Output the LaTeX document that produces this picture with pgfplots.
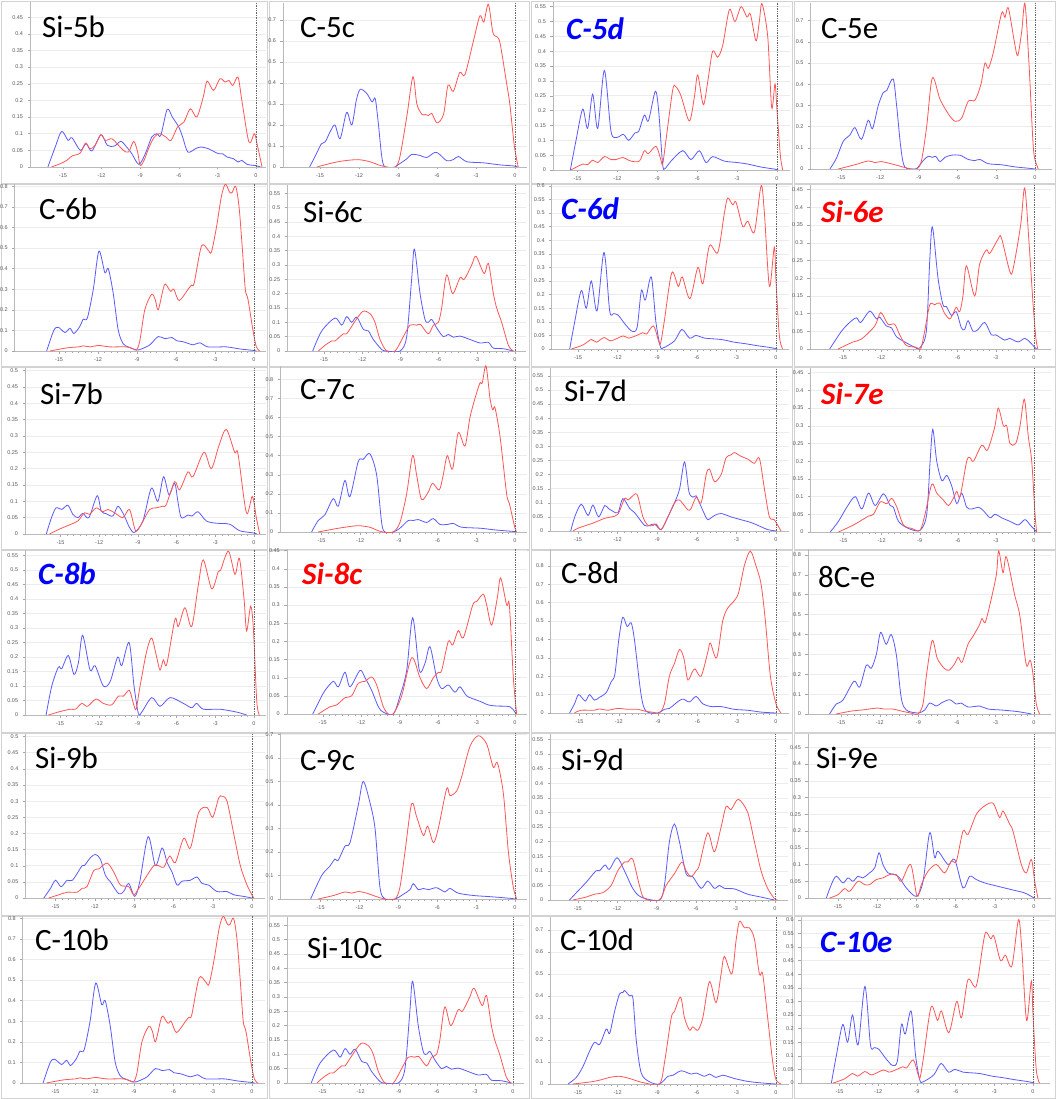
\documentclass[border=0pt]{standalone}
\usepackage{pgfplots}
\pgfplotsset{compat=1.18}
\usepackage{fontspec}
\setmainfont{Carlito}
\newfontfamily\tickfont{Liberation Sans}

\definecolor{dosblue}{RGB}{90,90,255}
\definecolor{dosred}{RGB}{255,85,85}
\definecolor{tblue}{RGB}{0,0,255}
\definecolor{tred}{RGB}{255,0,0}
\definecolor{ticktext}{RGB}{90,90,90}

\pgfplotsset{
  dospanel/.style={
    anchor=origin,
    ymin=0,
    enlargelimits=false,
    axis x line*=bottom,
    axis y line*=left,
    axis line style={gray!55, line width=0.6pt},
    xtick={-15,-12,-9,-6,-3,0},
    minor x tick num=5,
    ytick={0,#1,...,0.9},
    scaled y ticks=false,
    yticklabel style={/pgf/number format/fixed, /pgf/number format/precision=2, xshift=-1pt},
    /pgf/number format/assume math mode=true,
    tick label style={font=\tickfont\fontsize{5.5}{6}\selectfont, text=ticktext},
    tick style={gray!70, line width=0.4pt},
    major tick length=2.5pt, minor tick length=1.5pt,
    tick align=outside,
    ymajorgrids, grid style={gray!15, line width=0.5pt},
    xticklabel style={yshift=-1pt},
  },
  blueline/.style={dosblue, line width=0.8pt, smooth, tension=0.5},
  redline/.style={dosred, line width=0.8pt, smooth, tension=0.5},
}
\newcommand\zeroline{\draw[black!60, densely dotted, line width=0.7pt] (axis cs:0,0) -- ({axis cs:0,0} |- {rel axis cs:0,1});}
\newcommand\ptitle[3]{\node[anchor=base west, inner sep=0pt, font=\fontsize{31}{31}\selectfont, #3] at (#1) {#2};}

\begin{document}
\begin{tikzpicture}
\useasboundingbox (0pt,0pt) rectangle (1056pt,-1099pt);
\fill[white] (0pt,0pt) rectangle (1056pt,-1099pt);
% panel frames
\foreach \cx/\cw in {0/268,268/262,530/263,793/263}{
  \foreach \ry in {0,183,366,549,732,915}{
    \draw[gray!35, line width=0.8pt] (\cx pt+1pt,-\ry pt-1pt) rectangle (\cx pt+\cw pt-1pt,-\ry pt-183pt);
  }
}

% ---------------- row 1 ----------------
\begin{axis}[dospanel=0.05, at={(256pt,-167pt)}, x=12.87pt, y=333pt, xmin=-17.56, xmax=0.8, ymax=0.495]
\addplot[blueline] coordinates {(-16.17,0) (-15.6,0.06) (-15.1,0.107) (-14.6,0.08) (-14.3,0.088) (-13.65,0.05) (-13.2,0.07) (-12.75,0.048) (-12.05,0.097) (-11.55,0.065) (-11.0,0.063) (-10.5,0.077) (-10.05,0.06) (-9.65,0.04) (-9.1,0.008) (-8.6,0.04) (-8.1,0.09) (-7.7,0.1) (-7.4,0.095) (-6.9,0.173) (-6.5,0.15) (-6.0,0.12) (-5.7,0.09) (-5.3,0.045) (-4.7,0.055) (-4.3,0.06) (-3.7,0.055) (-3.2,0.045) (-2.9,0.04) (-2.6,0.04) (-2.25,0.03) (-1.75,0.025) (-1.4,0.015) (-1.1,0.02) (-0.7,0.008) (0,0.004) (0.35,0)};
\addplot[redline] coordinates {(-15.9,0) (-15.2,0.01) (-14.7,0.02) (-14.3,0.033) (-13.65,0.042) (-13.25,0.072) (-12.9,0.055) (-12.5,0.065) (-12.05,0.097) (-11.7,0.08) (-11.2,0.085) (-10.8,0.07) (-10.3,0.05) (-9.9,0.045) (-9.5,0.077) (-9.2,0.045) (-9.0,0.005) (-8.7,0.02) (-8.3,0.06) (-7.9,0.09) (-7.5,0.1) (-7.0,0.09) (-6.6,0.08) (-6.1,0.12) (-5.6,0.135) (-5.1,0.175) (-4.6,0.15) (-4.1,0.21) (-3.8,0.258) (-3.3,0.23) (-2.8,0.265) (-2.4,0.255) (-2.1,0.26) (-1.8,0.245) (-1.4,0.27) (-1.1,0.2) (-0.55,0.075) (-0.13,0.1) (0.08,0.07) (0.47,0)};
\zeroline
\end{axis}
\ptitle{42pt,-38pt}{Si-5b}{}

\begin{axis}[dospanel=0.1, at={(515pt,-167pt)}, x=13pt, y=210pt, xmin=-17.85, xmax=0.9, ymax=0.78]
\addplot[blueline] coordinates {(-15.8,0) (-15.3,0.06) (-14.9,0.11) (-14.6,0.12) (-14.2,0.17) (-13.85,0.2) (-13.45,0.135) (-12.95,0.26) (-12.55,0.2) (-12.2,0.32) (-11.9,0.37) (-11.4,0.35) (-11.0,0.31) (-10.75,0.325) (-10.5,0.2) (-10.25,0.05) (-10.0,0) (-9.2,0) (-9.0,0.01) (-8.3,0.04) (-7.95,0.06) (-7.3,0.055) (-6.8,0.045) (-6.15,0.07) (-5.8,0.06) (-5.25,0.03) (-4.75,0.035) (-4.35,0.05) (-3.7,0.025) (-2.45,0.02) (-1.15,0.01) (-0.1,0.005) (0.2,0)};
\addplot[redline] coordinates {(-15.25,0) (-14.0,0.02) (-13.1,0.03) (-12.05,0.035) (-11.15,0.025) (-10.5,0.01) (-9.85,0) (-9.2,0) (-8.85,0.05) (-8.3,0.25) (-7.85,0.43) (-7.55,0.3) (-7.15,0.25) (-6.9,0.25) (-6.65,0.245) (-6.4,0.255) (-6.0,0.21) (-5.5,0.25) (-5.15,0.39) (-4.75,0.36) (-4.25,0.45) (-3.85,0.44) (-3.2,0.6) (-2.7,0.72) (-2.4,0.69) (-2.05,0.775) (-1.7,0.64) (-1.4,0.62) (-1.15,0.59) (-0.65,0.4) (-0.4,0.3) (-0.05,0.1) (0.25,0)};
\zeroline
\end{axis}
\ptitle{300pt,-38pt}{C-5c}{}

\begin{axis}[dospanel=0.05, at={(777pt,-170pt)}, x=13.3pt, y=297pt, xmin=-16.85, xmax=1.0, ymax=0.566]
\addplot[blueline] coordinates {(-15.54,0) (-15.11,0.1) (-14.61,0.205) (-14.24,0.14) (-13.86,0.255) (-13.48,0.14) (-12.98,0.335) (-12.48,0.13) (-12.03,0.11) (-11.55,0.12) (-11.15,0.1) (-10.68,0.125) (-10.4,0.13) (-9.97,0.185) (-9.67,0.165) (-9.15,0.265) (-8.9,0.2) (-8.6,0.02) (-8.42,0.005) (-7.97,0.03) (-7.09,0.065) (-6.47,0.035) (-5.84,0.065) (-5.34,0.025) (-4.84,0.045) (-3.96,0.03) (-2.96,0.025) (-2.2,0.02) (-1.2,0.01) (-0.2,0.003) (0.1,0)};
\addplot[redline] coordinates {(-15.5,0) (-14.6,0.02) (-14.24,0.018) (-13.86,0.033) (-13.48,0.025) (-12.98,0.045) (-12.48,0.035) (-12.1,0.035) (-11.6,0.042) (-10.98,0.03) (-10.35,0.03) (-9.97,0.065) (-9.67,0.055) (-9.1,0.08) (-8.77,0.04) (-8.6,0.02) (-8.35,0.1) (-7.84,0.27) (-7.6,0.28) (-7.22,0.25) (-6.59,0.165) (-6.2,0.25) (-5.96,0.32) (-5.54,0.22) (-5.2,0.3) (-4.84,0.4) (-4.46,0.38) (-4.08,0.42) (-3.58,0.54) (-3.16,0.5) (-2.7,0.55) (-2.26,0.515) (-2.0,0.525) (-1.58,0.435) (-1.33,0.5) (-1.13,0.56) (-0.7,0.45) (-0.4,0.21) (-0.15,0.29) (0,0.2) (0.25,0.05) (0.43,0)};
\zeroline
\end{axis}
\ptitle{566pt,-40pt}{C-5d}{text=tblue, font=\fontsize{31}{31}\selectfont\bfseries\itshape}

\begin{axis}[dospanel=0.1, at={(1035pt,-169pt)}, x=12.9pt, y=212pt, xmin=-17.4, xmax=1.3, ymax=0.783]
\addplot[blueline] coordinates {(-15.9,0) (-15.4,0.05) (-14.87,0.13) (-14.35,0.16) (-13.96,0.195) (-13.45,0.14) (-12.93,0.23) (-12.6,0.19) (-12.15,0.3) (-11.77,0.36) (-11.5,0.37) (-11.0,0.425) (-10.73,0.3) (-10.4,0.1) (-10.1,0.01) (-9.3,0) (-9.05,0.01) (-8.66,0.04) (-8.28,0.06) (-7.95,0.055) (-7.7,0.06) (-7.37,0.035) (-6.98,0.055) (-6.47,0.065) (-5.82,0.065) (-5.17,0.045) (-4.65,0.04) (-4.27,0.045) (-3.62,0.025) (-2.59,0.02) (-1.55,0.01) (-0.4,0.003) (0,0)};
\addplot[redline] coordinates {(-15.26,0) (-13.96,0.02) (-12.93,0.038) (-12.4,0.03) (-11.9,0.035) (-10.86,0.02) (-9.96,0.005) (-9.18,0) (-8.8,0.04) (-8.4,0.2) (-7.96,0.43) (-7.37,0.33) (-6.72,0.26) (-6.2,0.225) (-5.69,0.24) (-5.17,0.32) (-4.65,0.325) (-4.19,0.4) (-3.88,0.5) (-3.62,0.475) (-3.23,0.55) (-2.59,0.735) (-2.33,0.715) (-2.07,0.76) (-1.6,0.6) (-1.34,0.535) (-1.03,0.65) (-0.78,0.78) (-0.47,0.5) (-0.13,0.1) (0.13,0.02) (0.26,0)};
\zeroline
\end{axis}
\ptitle{821pt,-39pt}{C-5e}{}

% ---------------- row 2 ----------------
\begin{axis}[dospanel=0.1, at={(254pt,-351pt)}, x=13pt, y=206pt, xmin=-18.4, xmax=0.9, ymax=0.81]
\addplot[blueline] coordinates {(-15.95,0) (-15.4,0.1) (-15.05,0.115) (-14.54,0.09) (-14.15,0.11) (-13.85,0.085) (-13.39,0.12) (-13.13,0.155) (-12.82,0.16) (-12.36,0.3) (-11.93,0.485) (-11.47,0.38) (-11.21,0.4) (-10.83,0.28) (-10.44,0.1) (-10.06,0.035) (-9.67,0.02) (-9.03,0.005) (-8.65,0.01) (-8.01,0.03) (-7.37,0.07) (-6.86,0.06) (-6.3,0.065) (-5.96,0.05) (-5.45,0.045) (-4.68,0.03) (-4.17,0.04) (-3.53,0.02) (-2.12,0.02) (-1.1,0.01) (-0.08,0.003) (0.2,0)};
\addplot[redline] coordinates {(-15.69,0) (-14.41,0.015) (-13.5,0.02) (-13.13,0.025) (-12.6,0.02) (-11.98,0.027) (-11.08,0.02) (-9.8,0.02) (-9.29,0.01) (-9.03,0.005) (-8.78,0.05) (-8.4,0.2) (-7.88,0.275) (-7.6,0.25) (-7.37,0.2) (-6.99,0.3) (-6.81,0.325) (-6.42,0.29) (-6.17,0.3) (-5.76,0.245) (-5.07,0.3) (-4.81,0.32) (-4.6,0.33) (-4.04,0.51) (-3.53,0.49) (-3.28,0.48) (-2.89,0.6) (-2.51,0.75) (-2.2,0.81) (-1.87,0.77) (-1.68,0.77) (-1.41,0.8) (-1.15,0.7) (-0.9,0.5) (-0.67,0.3) (-0.46,0.25) (-0.08,0.1) (0.18,0.02) (0.44,0)};
\zeroline
\end{axis}
\ptitle{39pt,-220pt}{C-6b}{}

\begin{axis}[dospanel=0.05, at={(515pt,-351pt)}, x=12.73pt, y=287pt, xmin=-17.9, xmax=0.9, ymax=0.578]
\addplot[blueline] coordinates {(-15.89,0) (-15.18,0.07) (-14.14,0.115) (-13.61,0.09) (-13.22,0.12) (-12.83,0.1) (-12.43,0.118) (-11.91,0.075) (-11.52,0.07) (-11.13,0.04) (-10.47,0.005) (-10.08,0) (-9.03,0) (-8.51,0.05) (-8.12,0.25) (-7.9,0.355) (-7.46,0.2) (-7.07,0.11) (-6.8,0.1) (-6.54,0.11) (-6.15,0.08) (-5.63,0.05) (-5.24,0.058) (-4.85,0.048) (-4.32,0.052) (-3.53,0.04) (-2.75,0.028) (-2.09,0.03) (-1.7,0.01) (-0.92,0.008) (-0.13,0)};
\addplot[redline] coordinates {(-15.45,0) (-14.92,0.02) (-14.4,0.035) (-14.14,0.035) (-13.48,0.06) (-13.22,0.06) (-12.62,0.1) (-11.96,0.138) (-11.39,0.13) (-11.0,0.1) (-10.6,0.04) (-10.08,0) (-9.42,0) (-8.77,0.05) (-8.25,0.09) (-7.73,0.09) (-7.41,0.092) (-6.81,0.06) (-6.41,0.09) (-6.02,0.1) (-5.76,0.15) (-5.37,0.265) (-4.9,0.2) (-4.32,0.255) (-3.98,0.25) (-3.4,0.3) (-3.06,0.33) (-2.43,0.27) (-2.09,0.305) (-1.7,0.2) (-1.44,0.15) (-1.05,0.1) (-0.52,0.02) (-0.13,0)};
\zeroline
\end{axis}
\ptitle{303pt,-223pt}{Si-6c}{}

\begin{axis}[dospanel=0.05, at={(776pt,-349pt)}, x=13.2pt, y=272pt, xmin=-17.0, xmax=1.0, ymax=0.607]
\addplot[blueline] coordinates {(-15.63,0) (-15.25,0.1) (-14.75,0.215) (-14.37,0.15) (-13.99,0.25) (-13.56,0.14) (-13.03,0.355) (-12.6,0.14) (-12.3,0.13) (-11.97,0.125) (-11.41,0.09) (-10.9,0.065) (-10.52,0.08) (-10.2,0.215) (-9.9,0.18) (-9.45,0.265) (-9.1,0.1) (-8.77,0.01) (-8.5,0.005) (-7.69,0.03) (-7.13,0.072) (-6.55,0.04) (-6.05,0.05) (-5.42,0.04) (-4.16,0.035) (-3.15,0.025) (-2.39,0.02) (-1.39,0.012) (-0.38,0.005) (0.1,0)};
\addplot[redline] coordinates {(-15.5,0) (-14.62,0.015) (-13.99,0.035) (-13.6,0.025) (-13.03,0.042) (-12.5,0.03) (-11.6,0.048) (-11.17,0.04) (-10.55,0.05) (-10.08,0.06) (-9.8,0.055) (-9.28,0.085) (-8.9,0.03) (-8.75,0.02) (-8.47,0.1) (-7.9,0.28) (-7.4,0.23) (-7.1,0.265) (-6.52,0.185) (-5.92,0.3) (-5.54,0.24) (-5.04,0.38) (-4.41,0.355) (-3.91,0.5) (-3.66,0.555) (-3.28,0.53) (-3.03,0.54) (-2.52,0.45) (-2.14,0.47) (-1.64,0.43) (-1.13,0.6) (-0.88,0.5) (-0.5,0.23) (-0.13,0.375) (0,0.25) (0.25,0.05) (0.5,0)};
\zeroline
\end{axis}
\ptitle{561pt,-219pt}{C-6d}{text=tblue, font=\fontsize{31}{31}\selectfont\bfseries\itshape}

\begin{axis}[dospanel=0.05, at={(1034pt,-349pt)}, x=12.73pt, y=354pt, xmin=-17.6, xmax=1.3, ymax=0.463]
\addplot[blueline] coordinates {(-16.05,0) (-15.13,0.05) (-14.48,0.075) (-13.95,0.088) (-13.61,0.075) (-12.91,0.107) (-12.38,0.085) (-12.12,0.09) (-11.6,0.065) (-11.2,0.06) (-10.81,0.035) (-10.16,0.02) (-9.37,0.005) (-8.98,0.003) (-8.46,0.05) (-8.19,0.25) (-7.98,0.345) (-7.54,0.2) (-7.15,0.125) (-6.88,0.12) (-6.49,0.095) (-6.1,0.105) (-5.71,0.06) (-5.45,0.055) (-5.18,0.08) (-4.79,0.05) (-4.4,0.055) (-3.87,0.075) (-3.35,0.04) (-3.0,0.04) (-2.3,0.025) (-1.91,0.03) (-1.26,0.02) (-0.73,0.03) (-0.34,0.02) (0.05,0.005) (0.2,0)};
\addplot[redline] coordinates {(-15.39,0) (-14.21,0.02) (-13.56,0.028) (-12.51,0.065) (-12.04,0.103) (-11.47,0.07) (-10.95,0.07) (-10.55,0.04) (-10.03,0.01) (-9.24,0.005) (-8.9,0) (-8.59,0.05) (-8.19,0.125) (-7.8,0.125) (-7.41,0.13) (-7.02,0.1) (-6.62,0.085) (-6.36,0.1) (-6.1,0.118) (-5.84,0.105) (-5.58,0.15) (-5.31,0.235) (-4.66,0.15) (-4.27,0.24) (-3.74,0.28) (-3.48,0.27) (-2.83,0.31) (-2.57,0.315) (-1.91,0.22) (-1.65,0.225) (-1.05,0.35) (-0.73,0.455) (-0.39,0.3) (-0.08,0.13) (0.15,0.03) (0.3,0)};
\zeroline
\end{axis}
\ptitle{821pt,-223pt}{Si-6e}{text=tred, font=\fontsize{31}{31}\selectfont\bfseries\itshape}

% ---------------- row 3 ----------------
\begin{axis}[dospanel=0.05, at={(254pt,-534pt)}, x=12.9pt, y=327pt, xmin=-17.75, xmax=0.9, ymax=0.507]
\addplot[blueline] coordinates {(-16.1,0) (-15.7,0.05) (-15.34,0.08) (-14.9,0.075) (-14.43,0.088) (-14.04,0.06) (-13.65,0.05) (-13.27,0.063) (-12.8,0.05) (-12.16,0.117) (-11.84,0.07) (-11.45,0.062) (-10.94,0.055) (-10.55,0.085) (-10.11,0.06) (-9.65,0.02) (-9.26,0.005) (-8.61,0.04) (-7.96,0.14) (-7.45,0.1) (-7.01,0.175) (-6.59,0.12) (-6.15,0.155) (-5.9,0.1) (-5.64,0.05) (-5.12,0.058) (-4.8,0.055) (-4.34,0.068) (-3.7,0.04) (-2.92,0.033) (-1.89,0.03) (-1.11,0.01) (0,0.003) (0.2,0)};
\addplot[redline] coordinates {(-15.85,0) (-15.08,0.015) (-14.3,0.028) (-13.65,0.04) (-13.14,0.065) (-12.75,0.06) (-12.23,0.08) (-11.72,0.068) (-11.33,0.075) (-10.81,0.065) (-10.16,0.05) (-9.65,0.075) (-9.18,0.01) (-8.74,0.03) (-8.09,0.075) (-7.58,0.08) (-7.06,0.085) (-6.8,0.09) (-6.15,0.16) (-5.77,0.135) (-5.12,0.19) (-4.73,0.175) (-3.88,0.25) (-3.31,0.2) (-2.72,0.27) (-2.15,0.32) (-1.5,0.25) (-1.24,0.245) (-0.59,0.065) (-0.13,0.115) (0.18,0.05) (0.44,0)};
\zeroline
\end{axis}
\ptitle{40pt,-404pt}{Si-7b}{}

\begin{axis}[dospanel=0.1, at={(515pt,-532pt)}, x=12.9pt, y=191pt, xmin=-18.2, xmax=0.9, ymax=0.87]
\addplot[blueline] coordinates {(-15.77,0) (-15.26,0.06) (-14.74,0.09) (-14.09,0.175) (-13.7,0.135) (-13.19,0.27) (-12.8,0.185) (-12.15,0.37) (-11.77,0.38) (-11.25,0.41) (-10.73,0.3) (-10.34,0.05) (-10.09,0) (-9.44,0) (-8.92,0.02) (-8.28,0.06) (-7.9,0.06) (-7.5,0.065) (-6.85,0.05) (-6.34,0.07) (-5.82,0.04) (-5.2,0.04) (-4.78,0.045) (-4.14,0.025) (-2.72,0.02) (-1.42,0.01) (-0.13,0.003) (0.1,0)};
\addplot[redline] coordinates {(-15.26,0) (-14.09,0.015) (-13.19,0.025) (-12.15,0.033) (-11.25,0.025) (-10.73,0.01) (-10.21,0) (-9.44,0) (-8.92,0.05) (-8.4,0.2) (-7.94,0.4) (-7.63,0.3) (-7.24,0.17) (-6.72,0.21) (-6.39,0.255) (-5.87,0.22) (-5.56,0.3) (-5.25,0.4) (-4.84,0.33) (-4.4,0.52) (-3.88,0.45) (-3.49,0.6) (-3.1,0.7) (-2.72,0.78) (-2.54,0.78) (-2.25,0.87) (-1.94,0.7) (-1.73,0.64) (-1.55,0.65) (-1.16,0.5) (-0.65,0.2) (-0.44,0.15) (0,0.02) (0.13,0)};
\zeroline
\end{axis}
\ptitle{300pt,-399pt}{C-7c}{}

\begin{axis}[dospanel=0.05, at={(776pt,-531pt)}, x=13.2pt, y=282pt, xmin=-17.1, xmax=1.0, ymax=0.578]
\addplot[blueline] coordinates {(-15.55,0) (-15.25,0.05) (-14.75,0.095) (-14.24,0.055) (-13.87,0.092) (-13.44,0.05) (-12.98,0.09) (-12.7,0.08) (-12.35,0.07) (-11.97,0.065) (-11.6,0.115) (-11.09,0.08) (-10.71,0.065) (-9.96,0.02) (-9.58,0.02) (-9.2,0.025) (-8.7,0.005) (-8.19,0.05) (-7.69,0.1) (-7.3,0.15) (-6.93,0.245) (-6.6,0.14) (-6.3,0.12) (-6.05,0.125) (-5.8,0.1) (-5.42,0.06) (-5.17,0.04) (-4.66,0.055) (-4.16,0.062) (-3.4,0.05) (-2.65,0.04) (-1.89,0.03) (-1.13,0.015) (-0.63,0.005) (0,0)};
\addplot[redline] coordinates {(-15.38,0) (-15.0,0.01) (-13.87,0.028) (-12.98,0.045) (-12.48,0.05) (-11.97,0.06) (-11.47,0.115) (-11.2,0.11) (-10.66,0.132) (-10.45,0.12) (-10.08,0.05) (-9.7,0.02) (-9.3,0.02) (-9.07,0.025) (-8.7,0.005) (-8.19,0.05) (-7.69,0.1) (-7.31,0.11) (-6.68,0.075) (-6.43,0.08) (-6.05,0.12) (-5.67,0.1) (-5.29,0.2) (-5.04,0.22) (-4.66,0.175) (-4.16,0.2) (-3.78,0.26) (-3.4,0.27) (-3.15,0.278) (-2.65,0.265) (-2.14,0.255) (-1.64,0.24) (-1.26,0.258) (-0.88,0.15) (-0.5,0.05) (-0.13,0.04) (0.38,0)};
\zeroline
\end{axis}
\ptitle{564pt,-401pt}{Si-7d}{}

\begin{axis}[dospanel=0.05, at={(1034pt,-532pt)}, x=12.7pt, y=354pt, xmin=-17.6, xmax=1.3, ymax=0.463]
\addplot[blueline] coordinates {(-16.05,0) (-15.4,0.03) (-14.74,0.07) (-14.08,0.1) (-13.56,0.065) (-13.03,0.11) (-12.51,0.075) (-11.85,0.108) (-11.33,0.075) (-11.07,0.07) (-10.67,0.03) (-9.89,0.01) (-8.97,0.005) (-8.45,0.05) (-8.18,0.2) (-7.97,0.29) (-7.66,0.2) (-7.26,0.145) (-6.87,0.16) (-6.48,0.13) (-6.08,0.08) (-5.69,0.11) (-5.3,0.07) (-4.9,0.065) (-4.38,0.07) (-3.98,0.06) (-3.46,0.04) (-3.07,0.05) (-2.54,0.04) (-1.89,0.03) (-1.23,0.02) (-0.71,0.035) (-0.31,0.02) (0.08,0.005) (0.2,0)};
\addplot[redline] coordinates {(-15.4,0) (-14.21,0.02) (-13.03,0.045) (-12.64,0.05) (-12.11,0.085) (-11.59,0.08) (-11.2,0.095) (-10.8,0.07) (-10.28,0.02) (-9.62,0.01) (-8.97,0.005) (-8.58,0.05) (-8.05,0.135) (-7.66,0.11) (-7.13,0.09) (-6.74,0.075) (-6.35,0.095) (-6.08,0.115) (-5.82,0.1) (-5.3,0.2) (-5.04,0.21) (-4.77,0.2) (-4.12,0.245) (-3.72,0.23) (-3.46,0.25) (-3.07,0.3) (-2.81,0.35) (-2.41,0.3) (-2.15,0.3) (-1.89,0.25) (-1.44,0.25) (-1.1,0.3) (-0.76,0.375) (-0.45,0.27) (-0.18,0.2) (0.08,0.05) (0.21,0)};
\zeroline
\end{axis}
\ptitle{821pt,-404pt}{Si-7e}{text=tred, font=\fontsize{31}{31}\selectfont\bfseries\itshape}

% ---------------- row 4 ----------------
\begin{axis}[dospanel=0.05, at={(254pt,-715pt)}, x=12.93pt, y=290pt, xmin=-17.7, xmax=0.9, ymax=0.569]
\addplot[blueline] coordinates {(-16.08,0) (-15.64,0.1) (-15.13,0.165) (-14.87,0.16) (-14.36,0.205) (-13.92,0.14) (-13.58,0.18) (-13.25,0.275) (-12.68,0.155) (-12.29,0.17) (-11.65,0.1) (-11.13,0.115) (-10.54,0.2) (-10.23,0.17) (-9.66,0.25) (-9.28,0.1) (-8.94,0.005) (-8.68,0.01) (-7.91,0.06) (-7.27,0.03) (-6.49,0.06) (-5.46,0.04) (-4.82,0.025) (-4.43,0.04) (-3.92,0.02) (-2.63,0.02) (-1.34,0.01) (-0.57,0)};
\addplot[redline] coordinates {(-15.9,0) (-15.0,0.012) (-14.2,0.02) (-13.8,0.02) (-13.32,0.04) (-12.88,0.03) (-12.22,0.055) (-11.65,0.04) (-11.0,0.035) (-10.49,0.065) (-10.1,0.065) (-9.64,0.085) (-9.33,0.04) (-9.12,0.02) (-8.81,0.1) (-8.3,0.22) (-7.91,0.265) (-7.53,0.2) (-7.27,0.155) (-7.01,0.19) (-6.75,0.175) (-6.11,0.33) (-5.85,0.305) (-5.34,0.37) (-4.82,0.305) (-4.3,0.45) (-3.92,0.535) (-3.27,0.435) (-2.76,0.495) (-2.58,0.5) (-1.98,0.565) (-1.47,0.485) (-1.13,0.54) (-0.77,0.4) (-0.57,0.29) (-0.26,0.375) (-0.05,0.3) (0.21,0.05) (0.41,0)};
\zeroline
\end{axis}
\ptitle{38pt,-584pt}{C-8b}{text=tblue, font=\fontsize{31}{31}\selectfont\bfseries\itshape}

\begin{axis}[dospanel=0.05, at={(515pt,-714pt)}, x=12.82pt, y=363pt, xmin=-17.8, xmax=0.9, ymax=0.455]
\addplot[blueline] coordinates {(-15.78,0) (-15.21,0.04) (-14.82,0.065) (-14.17,0.09) (-13.78,0.075) (-13.26,0.115) (-12.87,0.075) (-12.09,0.12) (-11.7,0.1) (-11.18,0.065) (-10.66,0.02) (-10.27,0.005) (-9.49,0) (-8.97,0.05) (-8.45,0.12) (-7.98,0.265) (-7.46,0.12) (-7.02,0.14) (-6.63,0.185) (-6.11,0.1) (-5.72,0.07) (-5.2,0.08) (-4.68,0.06) (-4.29,0.075) (-3.77,0.05) (-3.12,0.04) (-2.73,0.035) (-2.08,0.025) (-1.43,0.022) (-0.39,0.02) (0,0.005) (0.13,0)};
\addplot[redline] coordinates {(-15.34,0) (-14.43,0.02) (-13.91,0.025) (-13.26,0.045) (-12.74,0.05) (-12.22,0.085) (-11.7,0.09) (-11.18,0.102) (-10.79,0.08) (-10.27,0.02) (-9.88,0) (-9.49,0) (-8.84,0.05) (-8.06,0.155) (-7.41,0.1) (-6.89,0.07) (-6.37,0.1) (-5.98,0.115) (-5.72,0.12) (-5.2,0.2) (-4.86,0.19) (-4.42,0.23) (-4.03,0.21) (-3.3,0.3) (-2.99,0.31) (-2.47,0.33) (-2.21,0.3) (-1.82,0.245) (-1.38,0.32) (-1.12,0.375) (-0.65,0.3) (-0.44,0.3) (-0.13,0.1) (0.13,0)};
\zeroline
\end{axis}
\ptitle{302pt,-584pt}{Si-8c}{text=tred, font=\fontsize{31}{31}\selectfont\bfseries\itshape}

\begin{axis}[dospanel=0.1, at={(776pt,-713pt)}, x=13.1pt, y=184pt, xmin=-17.2, xmax=1.0, ymax=0.89]
\addplot[blueline] coordinates {(-15.76,0) (-15.38,0.05) (-15.07,0.1) (-14.56,0.065) (-14.24,0.1) (-13.86,0.07) (-13.48,0.085) (-12.97,0.11) (-12.58,0.17) (-12.3,0.21) (-12.0,0.4) (-11.7,0.52) (-11.36,0.47) (-11.06,0.49) (-10.81,0.4) (-10.3,0.1) (-9.92,0.01) (-9.03,0) (-8.52,0.02) (-8.14,0.025) (-7.2,0.075) (-6.61,0.06) (-6.1,0.09) (-5.59,0.05) (-4.96,0.035) (-4.2,0.035) (-3.18,0.02) (-2.16,0.015) (-1.14,0.005) (0,0)};
\addplot[redline] coordinates {(-15.38,0) (-14.9,0.015) (-13.9,0.015) (-13.48,0.022) (-12.85,0.015) (-12.08,0.025) (-11.3,0.02) (-10.55,0.02) (-10.0,0.01) (-9.3,0.003) (-8.9,0) (-8.52,0.05) (-8.14,0.2) (-7.75,0.27) (-7.37,0.345) (-7.04,0.3) (-6.74,0.18) (-6.41,0.22) (-6.18,0.24) (-5.72,0.2) (-5.21,0.33) (-5.01,0.38) (-4.53,0.3) (-4.07,0.5) (-3.69,0.57) (-3.31,0.6) (-2.87,0.65) (-2.42,0.8) (-1.96,0.88) (-1.53,0.8) (-1.14,0.7) (-0.81,0.5) (-0.43,0.2) (0,0.05) (0.38,0)};
\zeroline
\end{axis}
\ptitle{561pt,-583pt}{C-8d}{}

\begin{axis}[dospanel=0.1, at={(1034pt,-714pt)}, x=12.85pt, y=199pt, xmin=-17.6, xmax=1.3, ymax=0.83]
\addplot[blueline] coordinates {(-15.91,0) (-15.39,0.05) (-14.87,0.07) (-14.01,0.165) (-13.57,0.135) (-13.05,0.245) (-12.66,0.23) (-12.27,0.3) (-11.94,0.41) (-11.5,0.35) (-11.11,0.4) (-10.72,0.3) (-10.33,0.08) (-9.94,0.02) (-9.03,0.005) (-8.51,0.02) (-8.12,0.055) (-7.6,0.04) (-7.22,0.055) (-6.57,0.072) (-6.05,0.05) (-5.66,0.055) (-5.14,0.035) (-4.23,0.04) (-3.58,0.025) (-2.54,0.02) (-1.25,0.012) (-0.2,0)};
\addplot[redline] coordinates {(-15.39,0) (-14.2,0.015) (-13.4,0.02) (-12.2,0.03) (-11.7,0.025) (-11.0,0.025) (-10.33,0.015) (-9.6,0.005) (-9.03,0) (-8.64,0.05) (-8.36,0.2) (-7.92,0.37) (-7.53,0.28) (-7.0,0.23) (-6.62,0.22) (-6.2,0.25) (-5.9,0.285) (-5.6,0.26) (-5.14,0.35) (-4.75,0.39) (-4.23,0.45) (-4.05,0.48) (-3.8,0.46) (-3.43,0.55) (-2.93,0.7) (-2.75,0.82) (-2.41,0.71) (-2.15,0.79) (-1.51,0.6) (-1.12,0.5) (-0.73,0.3) (-0.55,0.24) (-0.29,0.27) (-0.08,0.2) (0.18,0.05) (0.44,0)};
\zeroline
\end{axis}
\ptitle{818pt,-587pt}{8C-e}{}

% ---------------- row 5 ----------------
\begin{axis}[dospanel=0.05, at={(252pt,-898pt)}, x=13.1pt, y=323pt, xmin=-17.3, xmax=1.0, ymax=0.507]
\addplot[blueline] coordinates {(-15.89,0) (-15.38,0.03) (-15.0,0.055) (-14.57,0.035) (-14.11,0.055) (-13.7,0.055) (-12.97,0.1) (-12.8,0.1) (-12.33,0.125) (-11.95,0.135) (-11.57,0.12) (-11.19,0.07) (-10.81,0.05) (-10.17,0.013) (-9.8,0.02) (-9.41,0.045) (-8.95,0.005) (-8.57,0.05) (-7.93,0.19) (-7.37,0.1) (-6.86,0.155) (-6.48,0.11) (-6.1,0.08) (-5.72,0.04) (-5.34,0.052) (-4.7,0.055) (-4.2,0.065) (-3.81,0.045) (-3.31,0.04) (-2.67,0.02) (-1.91,0.02) (-1.4,0.01) (-0.64,0.005) (0,0)};
\addplot[redline] coordinates {(-15.51,0) (-14.75,0.01) (-14.1,0.018) (-13.35,0.018) (-12.97,0.03) (-12.6,0.035) (-12.08,0.085) (-11.7,0.09) (-11.06,0.108) (-10.55,0.08) (-10.04,0.04) (-9.41,0.035) (-9.03,0.01) (-8.64,0.03) (-8.01,0.07) (-7.5,0.1) (-7.12,0.1) (-6.74,0.095) (-6.28,0.13) (-5.85,0.11) (-5.21,0.185) (-4.7,0.155) (-4.07,0.265) (-3.43,0.28) (-3.0,0.25) (-2.54,0.31) (-2.29,0.315) (-1.91,0.3) (-1.4,0.2) (-0.89,0.1) (-0.38,0.04) (0.13,0)};
\zeroline
\end{axis}
\ptitle{35pt,-768pt}{Si-9b}{}

\begin{axis}[dospanel=0.1, at={(515pt,-899pt)}, x=12.96pt, y=235pt, xmin=-18.1, xmax=0.9, ymax=0.707]
\addplot[blueline] coordinates {(-15.77,0) (-14.92,0.1) (-14.28,0.14) (-13.9,0.17) (-13.64,0.165) (-13.12,0.225) (-12.73,0.24) (-12.09,0.4) (-11.71,0.5) (-11.19,0.41) (-10.8,0.3) (-10.42,0.05) (-10.03,0) (-9.26,0) (-8.62,0.02) (-8.1,0.04) (-7.85,0.065) (-7.46,0.04) (-7.07,0.045) (-6.68,0.04) (-6.05,0.048) (-5.4,0.03) (-5.02,0.045) (-4.38,0.025) (-3.22,0.015) (-1.93,0.01) (-0.39,0.003) (0,0)};
\addplot[redline] coordinates {(-15.18,0) (-14.0,0.015) (-13.12,0.03) (-12.6,0.025) (-12.09,0.032) (-11.45,0.025) (-10.68,0.01) (-10.03,0) (-9.26,0) (-8.88,0.05) (-8.49,0.2) (-7.98,0.405) (-7.59,0.35) (-7.07,0.27) (-6.74,0.31) (-6.3,0.24) (-5.92,0.3) (-5.27,0.47) (-5.02,0.44) (-4.5,0.46) (-4.12,0.52) (-3.47,0.65) (-2.83,0.695) (-2.19,0.66) (-1.67,0.56) (-1.36,0.58) (-0.9,0.45) (-0.51,0.2) (-0.13,0.05) (0.13,0)};
\zeroline
\end{axis}
\ptitle{300pt,-770pt}{C-9c}{}

\begin{axis}[dospanel=0.05, at={(775pt,-900pt)}, x=13.15pt, y=292pt, xmin=-17.1, xmax=1.0, ymax=0.568]
\addplot[blueline] coordinates {(-15.63,0) (-15.0,0.03) (-14.37,0.06) (-13.61,0.1) (-13.35,0.1) (-12.92,0.12) (-12.59,0.105) (-12.01,0.145) (-11.45,0.1) (-10.82,0.04) (-10.18,0.01) (-8.79,0) (-8.41,0.05) (-8.03,0.2) (-7.65,0.26) (-7.27,0.2) (-6.76,0.09) (-6.26,0.08) (-5.62,0.04) (-5.12,0.065) (-4.61,0.04) (-4.23,0.05) (-3.85,0.04) (-3.09,0.038) (-2.08,0.02) (-1.06,0.01) (-0.05,0)};
\addplot[redline] coordinates {(-15.38,0) (-14.37,0.01) (-13.73,0.02) (-13.1,0.025) (-12.46,0.05) (-11.96,0.1) (-11.45,0.13) (-11.2,0.13) (-10.82,0.14) (-10.31,0.05) (-9.93,0.005) (-8.79,0) (-8.28,0.05) (-7.65,0.09) (-7.09,0.13) (-6.76,0.1) (-6.38,0.08) (-6.0,0.1) (-5.75,0.12) (-5.12,0.23) (-4.61,0.165) (-4.1,0.25) (-3.72,0.32) (-3.34,0.31) (-2.79,0.345) (-2.08,0.3) (-1.57,0.2) (-1.06,0.1) (-0.56,0.04) (-0.05,0.005) (0.2,0)};
\zeroline
\end{axis}
\ptitle{561pt,-770pt}{Si-9d}{}

\begin{axis}[dospanel=0.05, at={(1034pt,-898pt)}, x=13.07pt, y=335pt, xmin=-17.3, xmax=1.3, ymax=0.49]
\addplot[blueline] coordinates {(-15.89,0) (-15.51,0.04) (-15.13,0.065) (-14.62,0.045) (-14.23,0.06) (-13.85,0.05) (-13.47,0.065) (-13.1,0.06) (-12.58,0.075) (-12.19,0.09) (-11.86,0.135) (-11.56,0.1) (-11.17,0.075) (-10.66,0.07) (-10.28,0.06) (-9.77,0.03) (-9.0,0.005) (-8.49,0.05) (-7.98,0.195) (-7.6,0.12) (-7.35,0.14) (-6.58,0.1) (-6.07,0.115) (-5.43,0.03) (-4.92,0.065) (-4.41,0.055) (-3.78,0.045) (-2.76,0.035) (-1.73,0.025) (-0.71,0.015) (0,0)};
\addplot[redline] coordinates {(-15.64,0) (-15.0,0.01) (-14.49,0.028) (-14.1,0.02) (-13.47,0.05) (-12.96,0.04) (-12.58,0.04) (-12.07,0.055) (-11.56,0.06) (-11.05,0.07) (-10.54,0.07) (-10.15,0.05) (-9.44,0.1) (-8.95,0.005) (-8.62,0.04) (-8.11,0.08) (-7.47,0.1) (-6.84,0.075) (-6.33,0.11) (-5.94,0.11) (-5.43,0.2) (-5.05,0.19) (-4.41,0.25) (-3.78,0.275) (-3.14,0.283) (-2.63,0.24) (-2.37,0.26) (-1.86,0.22) (-1.61,0.2) (-0.97,0.1) (-0.59,0.075) (-0.2,0.115) (0.05,0.05) (0.3,0)};
\zeroline
\end{axis}
\ptitle{816pt,-768pt}{Si-9e}{}

% ---------------- row 6 ----------------
\begin{axis}[dospanel=0.1, at={(252pt,-1083pt)}, x=13.1pt, y=206pt, xmin=-17.5, xmax=1.0, ymax=0.81]
\addplot[blueline] coordinates {(-15.95,0) (-15.4,0.1) (-15.05,0.115) (-14.54,0.09) (-14.15,0.11) (-13.85,0.085) (-13.39,0.12) (-13.13,0.155) (-12.82,0.16) (-12.36,0.3) (-11.93,0.485) (-11.47,0.38) (-11.21,0.4) (-10.83,0.28) (-10.44,0.1) (-10.06,0.035) (-9.67,0.02) (-9.03,0.005) (-8.65,0.01) (-8.01,0.03) (-7.37,0.07) (-6.86,0.06) (-6.3,0.065) (-5.96,0.05) (-5.45,0.045) (-4.68,0.03) (-4.17,0.04) (-3.53,0.02) (-2.12,0.02) (-1.1,0.01) (-0.08,0.003) (0.2,0)};
\addplot[redline] coordinates {(-15.69,0) (-14.41,0.015) (-13.5,0.02) (-13.13,0.025) (-12.6,0.02) (-11.98,0.027) (-11.08,0.02) (-9.8,0.02) (-9.29,0.01) (-9.03,0.005) (-8.78,0.05) (-8.4,0.2) (-7.88,0.275) (-7.6,0.25) (-7.37,0.2) (-6.99,0.3) (-6.81,0.325) (-6.42,0.29) (-6.17,0.3) (-5.76,0.245) (-5.07,0.3) (-4.81,0.32) (-4.6,0.33) (-4.04,0.51) (-3.53,0.49) (-3.28,0.48) (-2.89,0.6) (-2.51,0.75) (-2.2,0.81) (-1.87,0.77) (-1.68,0.77) (-1.41,0.8) (-1.15,0.7) (-0.9,0.5) (-0.67,0.3) (-0.46,0.25) (-0.08,0.1) (0.18,0.02) (0.44,0)};
\zeroline
\end{axis}
\ptitle{35pt,-950pt}{C-10b}{}

\begin{axis}[dospanel=0.05, at={(513pt,-1083pt)}, x=12.7pt, y=287pt, xmin=-17.8, xmax=0.9, ymax=0.578]
\addplot[blueline] coordinates {(-15.89,0) (-15.18,0.07) (-14.14,0.115) (-13.61,0.09) (-13.22,0.12) (-12.83,0.1) (-12.43,0.118) (-11.91,0.075) (-11.52,0.07) (-11.13,0.04) (-10.47,0.005) (-10.08,0) (-9.03,0) (-8.51,0.05) (-8.12,0.25) (-7.9,0.355) (-7.46,0.2) (-7.07,0.11) (-6.8,0.1) (-6.54,0.11) (-6.15,0.08) (-5.63,0.05) (-5.24,0.058) (-4.85,0.048) (-4.32,0.052) (-3.53,0.04) (-2.75,0.028) (-2.09,0.03) (-1.7,0.01) (-0.92,0.008) (-0.13,0)};
\addplot[redline] coordinates {(-15.45,0) (-14.92,0.02) (-14.4,0.035) (-14.14,0.035) (-13.48,0.06) (-13.22,0.06) (-12.62,0.1) (-11.96,0.138) (-11.39,0.13) (-11.0,0.1) (-10.6,0.04) (-10.08,0) (-9.42,0) (-8.77,0.05) (-8.25,0.09) (-7.73,0.09) (-7.41,0.092) (-6.81,0.06) (-6.41,0.09) (-6.02,0.1) (-5.76,0.15) (-5.37,0.265) (-4.9,0.2) (-4.32,0.255) (-3.98,0.25) (-3.4,0.3) (-3.06,0.33) (-2.43,0.27) (-2.09,0.305) (-1.7,0.2) (-1.44,0.15) (-1.05,0.1) (-0.52,0.02) (-0.13,0)};
\zeroline
\end{axis}
\ptitle{307pt,-958pt}{Si-10c}{}

\begin{axis}[dospanel=0.1, at={(776pt,-1084pt)}, x=13.2pt, y=220pt, xmin=-17.1, xmax=1.0, ymax=0.76]
\addplot[blueline] coordinates {(-15.76,0) (-15.13,0.03) (-14.62,0.08) (-14.12,0.15) (-13.74,0.19) (-13.36,0.18) (-12.86,0.25) (-12.6,0.23) (-12.23,0.33) (-11.85,0.41) (-11.6,0.415) (-11.47,0.425) (-11.09,0.4) (-10.84,0.39) (-10.59,0.2) (-10.21,0.05) (-9.58,0.01) (-8.82,0) (-8.19,0.035) (-7.8,0.04) (-7.18,0.06) (-6.43,0.045) (-6.05,0.05) (-5.42,0.035) (-5.04,0.045) (-4.54,0.03) (-4.03,0.04) (-3.15,0.025) (-2.14,0.012) (-1.13,0.005) (0,0)};
\addplot[redline] coordinates {(-15.38,0) (-14.0,0.01) (-13.2,0.02) (-12.6,0.03) (-11.85,0.035) (-11.09,0.025) (-10.59,0.015) (-9.96,0.005) (-8.82,0) (-8.44,0.1) (-7.94,0.3) (-7.69,0.33) (-7.23,0.395) (-6.93,0.3) (-6.55,0.245) (-6.3,0.26) (-5.92,0.245) (-5.55,0.3) (-5.04,0.465) (-4.54,0.37) (-4.16,0.5) (-3.91,0.58) (-3.35,0.5) (-3.03,0.65) (-2.77,0.74) (-2.39,0.71) (-2.02,0.71) (-1.64,0.66) (-1.26,0.5) (-1.01,0.5) (-0.63,0.3) (-0.25,0.1) (0,0.02) (0.38,0)};
\zeroline
\end{axis}
\ptitle{560pt,-950pt}{C-10d}{}

\begin{axis}[dospanel=0.05, at={(1033pt,-1083pt)}, x=12.9pt, y=272pt, xmin=-18.0, xmax=1.3, ymax=0.61]
\addplot[blueline] coordinates {(-15.63,0) (-15.25,0.1) (-14.75,0.215) (-14.37,0.15) (-13.99,0.25) (-13.56,0.14) (-13.03,0.355) (-12.6,0.14) (-12.3,0.13) (-11.97,0.125) (-11.41,0.09) (-10.9,0.065) (-10.52,0.08) (-10.2,0.215) (-9.9,0.18) (-9.45,0.265) (-9.1,0.1) (-8.77,0.01) (-8.5,0.005) (-7.69,0.03) (-7.13,0.072) (-6.55,0.04) (-6.05,0.05) (-5.42,0.04) (-4.16,0.035) (-3.15,0.025) (-2.39,0.02) (-1.39,0.012) (-0.38,0.005) (0.1,0)};
\addplot[redline] coordinates {(-15.5,0) (-14.62,0.015) (-13.99,0.035) (-13.6,0.025) (-13.03,0.042) (-12.5,0.03) (-11.6,0.048) (-11.17,0.04) (-10.55,0.05) (-10.08,0.06) (-9.8,0.055) (-9.28,0.085) (-8.9,0.03) (-8.75,0.02) (-8.47,0.1) (-7.9,0.28) (-7.4,0.23) (-7.1,0.265) (-6.52,0.185) (-5.92,0.3) (-5.54,0.24) (-5.04,0.38) (-4.41,0.355) (-3.91,0.5) (-3.66,0.555) (-3.28,0.53) (-3.03,0.54) (-2.52,0.45) (-2.14,0.47) (-1.64,0.43) (-1.13,0.6) (-0.88,0.5) (-0.5,0.23) (-0.13,0.375) (0,0.25) (0.25,0.05) (0.5,0)};
\zeroline
\end{axis}
\ptitle{820pt,-952pt}{C-10e}{text=tblue, font=\fontsize{31}{31}\selectfont\bfseries\itshape}

\end{tikzpicture}
\end{document}
